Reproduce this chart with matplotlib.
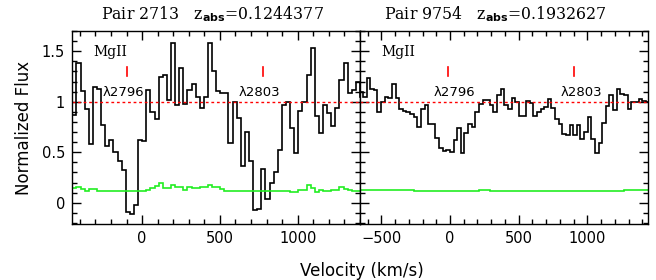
import numpy as np
import matplotlib
matplotlib.use('Agg')
import matplotlib.pyplot as plt
from matplotlib.ticker import MultipleLocator, FuncFormatter

# velocity binning of the two spectra (km/s)
dv = 26.4
v0_left = -474.5
v0_right = -660.0

# Pair 2713, z_abs = 0.1244377
flux_left = [0.92, 0.87, 1.38, 1.11, 0.93, 0.58, 1.15, 1.13, 0.77, 0.56,
             0.62, 0.50, 0.41, 0.32, -0.09, -0.11, -0.02, 0.62, 0.61, 1.12,
             0.90, 0.83, 1.25, 1.27, 1.02, 1.58, 0.97, 1.33, 0.98, 1.12,
             1.18, 1.05, 0.94, 1.05, 1.58, 1.30, 1.11, 1.09, 1.09, 0.59,
             1.00, 0.84, 0.36, 0.70, 0.41, -0.07, -0.06, 0.33, 0.04, 0.20,
             0.30, 0.52, 0.97, 1.00, 0.74, 0.49, 0.91, 1.00, 1.27, 1.53,
             0.86, 0.69, 0.97, 0.89, 0.76, 0.94, 1.22, 1.38, 1.09, 1.12,
             1.20, 1.05]
err_left = [0.15, 0.15, 0.16, 0.14, 0.12, 0.14, 0.14, 0.12, 0.12, 0.12,
            0.12, 0.12, 0.12, 0.12, 0.12, 0.12, 0.12, 0.12, 0.12, 0.13,
            0.15, 0.17, 0.20, 0.15, 0.15, 0.18, 0.16, 0.16, 0.13, 0.16,
            0.15, 0.15, 0.16, 0.16, 0.18, 0.16, 0.16, 0.14, 0.12, 0.12,
            0.12, 0.12, 0.12, 0.12, 0.12, 0.12, 0.12, 0.12, 0.12, 0.12,
            0.12, 0.12, 0.12, 0.12, 0.11, 0.11, 0.13, 0.13, 0.18, 0.15,
            0.11, 0.13, 0.12, 0.12, 0.13, 0.13, 0.16, 0.14, 0.13, 0.12,
            0.12, 0.12]

# Pair 9754, z_abs = 0.1932627
flux_right = [1.10, 1.05, 1.24, 1.13, 1.12, 0.90, 1.00, 1.05, 1.04, 1.18,
              1.04, 0.93, 0.91, 0.90, 0.88, 0.85, 0.75, 0.93, 0.97, 0.78,
              0.78, 0.64, 0.54, 0.51, 0.52, 0.50, 0.62, 0.74, 0.49, 0.69,
              0.78, 0.75, 0.90, 0.98, 1.02, 1.02, 0.97, 0.90, 1.07, 1.13,
              0.97, 0.93, 1.04, 1.00, 0.86, 0.86, 1.01, 0.99, 0.86, 0.90,
              0.93, 0.95, 1.03, 0.94, 0.83, 0.78, 0.68, 0.67, 0.77, 0.67,
              0.77, 0.63, 0.70, 0.85, 0.63, 0.49, 0.59, 0.79, 0.96, 1.07,
              0.92, 1.13, 1.08, 1.07, 0.93, 1.00, 1.00, 1.03, 1.01, 1.00]
err_right = [0.125, 0.125, 0.125, 0.124, 0.124, 0.124, 0.124, 0.123, 0.123, 0.123,
             0.123, 0.122, 0.122, 0.122, 0.122, 0.121, 0.121, 0.121, 0.120, 0.120,
             0.120, 0.119, 0.118, 0.117, 0.116, 0.115, 0.115, 0.116, 0.117, 0.118,
             0.119, 0.120, 0.121, 0.122, 0.122, 0.122, 0.121, 0.121, 0.120, 0.120,
             0.120, 0.120, 0.120, 0.120, 0.119, 0.119, 0.119, 0.119, 0.118, 0.118,
             0.118, 0.118, 0.118, 0.118, 0.118, 0.118, 0.118, 0.117, 0.117, 0.117,
             0.117, 0.116, 0.115, 0.114, 0.114, 0.115, 0.117, 0.118, 0.119, 0.120,
             0.120, 0.121, 0.121, 0.122, 0.122, 0.122, 0.122, 0.122, 0.122, 0.122]

titles = ['Pair 2713   z$_{\\mathbf{abs}}$=0.1244377',
          'Pair 9754   z$_{\\mathbf{abs}}$=0.1932627']
xlims = [(-450, 1400), (-655, 1440)]
line_marks = [(-96, 775), (-15, 903)]
line_labels = [(-122, 755), (31, 956)]

fig = plt.figure(figsize=(6.56, 2.80), dpi=100)
axl = fig.add_axes([0.1098, 0.2, 0.439, 0.689])
axr = fig.add_axes([0.5488, 0.2, 0.4386, 0.689])

panels = [(axl, v0_left, flux_left, err_left),
          (axr, v0_right, flux_right, err_right)]

for i, (ax, v0, flux, err) in enumerate(panels):
    edges = v0 + dv * np.arange(len(flux) + 1)
    ax.stairs(flux, edges, baseline=None, color='black', lw=1.2)
    ax.stairs(err, edges, baseline=None, color='#22ee22', lw=1.2)
    ax.axhline(1.0, color='red', lw=1.0, ls=(0, (2, 2)))
    for vm in line_marks[i]:
        ax.plot([vm, vm], [1.26, 1.34], color='red', lw=1.2)
    ax.text(line_labels[i][0], 1.09, '\u03bb2796', ha='center', va='center', fontsize=9.5)
    ax.text(line_labels[i][1], 1.09, '\u03bb2803', ha='center', va='center', fontsize=9.5)
    ax.text(0.075, 0.89, 'MgII', transform=ax.transAxes, fontsize=10,
            family='DejaVu Serif', va='center')

    ax.set_xlim(*xlims[i])
    ax.set_ylim(-0.21, 1.70)
    ax.xaxis.set_major_locator(MultipleLocator(500))
    ax.xaxis.set_minor_locator(MultipleLocator(100))
    ax.yaxis.set_major_locator(MultipleLocator(0.5))
    ax.yaxis.set_minor_locator(MultipleLocator(0.1))
    ax.yaxis.set_major_formatter(FuncFormatter(lambda y, p: f'{y:g}'))
    ax.tick_params(which='both', direction='in', top=True, right=True, width=1.0)
    ax.tick_params(which='major', length=6.5, labelsize=10.5, pad=5)
    ax.tick_params(which='minor', length=3.5)
    for s in ax.spines.values():
        s.set_linewidth(1.0)
    ax.text([0.488, 0.472][i], 1.035, titles[i], transform=ax.transAxes,
            ha='center', va='bottom', fontsize=11.3, family='DejaVu Serif')

axr.tick_params(labelleft=False)

fig.text(24 / 656, 1 - 127.5 / 280, 'Normalized Flux', rotation=90,
         ha='center', va='center', fontsize=12)
fig.text(361.5 / 656, 1 - 271 / 280, 'Velocity (km/s)',
         ha='center', va='center', fontsize=12)

fig.savefig('out.png', dpi=100)
